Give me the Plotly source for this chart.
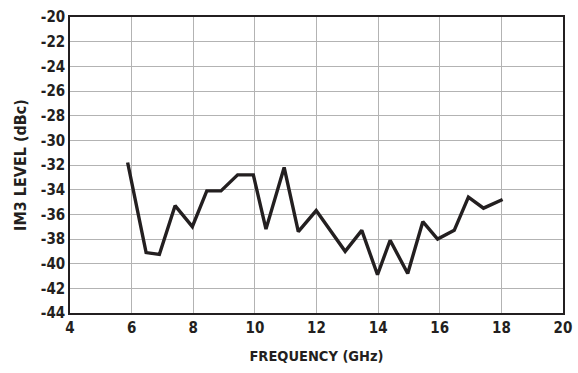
import plotly.graph_objects as go

# IM3 level versus frequency
freq_ghz = [5.87, 6.47, 6.9, 7.41, 7.97, 8.44, 8.9, 9.44, 9.95, 10.36, 10.95, 11.41,
            11.99, 12.93, 13.47, 13.98, 14.39, 14.96, 15.45, 15.93, 16.47, 16.93,
            17.42, 18.04]
im3_dbc = [-31.8, -39.1, -39.25, -35.3, -37.0, -34.1, -34.1, -32.8, -32.8, -37.2,
           -32.2, -37.4, -35.7, -39.0, -37.3, -40.9, -38.1, -40.8, -36.6, -38.0,
           -37.3, -34.6, -35.5, -34.8]

x_ticks = [4, 6, 8, 10, 12, 14, 16, 18, 20]
y_ticks = list(range(-44, -19, 2))

font_family = "DejaVu Sans Condensed, Liberation Sans Narrow, sans-serif"
ink = "#231f20"

fig = go.Figure()
fig.add_trace(go.Scatter(
    x=freq_ghz, y=im3_dbc, mode="lines",
    line=dict(color=ink, width=3.4),
    showlegend=False,
))

axis_common = dict(
    showgrid=True, gridcolor="#b3b3b3", gridwidth=1.2,
    showline=True, linecolor=ink, linewidth=1.5, mirror=True,
    zeroline=False, ticks="", automargin=False,
    tickfont=dict(family=font_family, size=15, color=ink, weight="bold"),
)

fig.update_xaxes(
    range=[4, 20], tickvals=x_ticks, ticktext=[str(v) for v in x_ticks],
    title=dict(text="FREQUENCY (GHz)", standoff=15,
               font=dict(family=font_family, size=14.5, color=ink, weight="bold")),
    **axis_common,
)
fig.update_yaxes(
    range=[-44, -20], tickvals=y_ticks, ticktext=[str(v) for v in y_ticks],
    title=dict(text="IM3 LEVEL (dBc)", standoff=10,
               font=dict(family=font_family, size=16, color=ink, weight="bold")),
    **axis_common,
)

fig.update_layout(
    width=578, height=373,
    margin=dict(l=70, r=15, t=17, b=60),
    paper_bgcolor="white", plot_bgcolor="white",
)

fig.write_html("out.html")
